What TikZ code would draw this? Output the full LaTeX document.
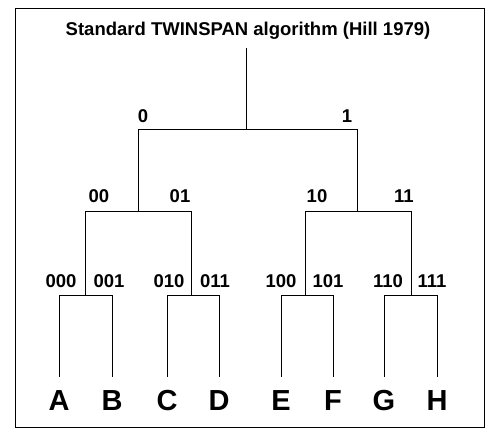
\documentclass[tikz,border=0pt]{standalone}
\usepackage{fontspec}
\setmainfont{Liberation Sans}
\usetikzlibrary{positioning}

\begin{document}
\begin{tikzpicture}[
    x=1pt, y=-1pt,
    branch/.style={line width=1pt, black},
    split/.style={font=\fontsize{18.5}{18.5}\selectfont\bfseries, anchor=base, inner sep=0pt},
    leaf/.style={font=\fontsize{29}{29}\selectfont\bfseries, anchor=north, inner xsep=0pt, inner ysep=13pt},
    title/.style={font=\fontsize{18.5}{19}\selectfont\bfseries, anchor=base}
]
\useasboundingbox (0,0) rectangle (489,432);
\draw[line width=0.8pt] (15,8) rectangle (484,427);

% Titel
\node[title] (heading) at (248,35) {Standard TWINSPAN algorithm (Hill 1979)};

% Verzweigungspunkte
\coordinate (top) at (246,48);
\coordinate (c) at (246,129);
\coordinate (c0) at (138,211);
\coordinate (c1) at (357,211);
\coordinate (c00) at (85,295);
\coordinate (c01) at (191,295);
\coordinate (c10) at (305,295);
\coordinate (c11) at (411,295);

% Endgruppen
\node[leaf] (A) at (59,377) {A};
\node[leaf] (B) at (112,377) {B};
\node[leaf] (C) at (167,377) {C};
\node[leaf] (D) at (219,377) {D};
\node[leaf] (E) at (281,377) {E};
\node[leaf] (F) at (333,377) {F};
\node[leaf] (G) at (384,377) {G};
\node[leaf] (H) at (437,377) {H};

% Baum
\draw[branch] (top) -- (c);
\draw[branch] (c) -| (c0);
\draw[branch] (c) -| (c1);
\draw[branch] (c0) -| (c00);
\draw[branch] (c0) -| (c01);
\draw[branch] (c1) -| (c10);
\draw[branch] (c1) -| (c11);
\draw[branch] (c00) -| (A.north);
\draw[branch] (c00) -| (B.north);
\draw[branch] (c01) -| (C.north);
\draw[branch] (c01) -| (D.north);
\draw[branch] (c10) -| (E.north);
\draw[branch] (c10) -| (F.north);
\draw[branch] (c11) -| (G.north);
\draw[branch] (c11) -| (H.north);

% Teilungscodes
\node[split] (l0) at (143,122) {0};
\node[split] (l1) at (347,122) {1};
\node[split] (l00) at (99,202) {00};
\node[split] (l01) at (180,202) {01};
\node[split] (l10) at (317,202) {10};
\node[split] (l11) at (404,202) {11};
\node[split] (l000) at (61,287) {000};
\node[split] (l001) at (109,287) {001};
\node[split] (l010) at (169,287) {010};
\node[split] (l011) at (215,287) {011};
\node[split] (l100) at (281,287) {100};
\node[split] (l101) at (328,287) {101};
\node[split] (l110) at (388,287) {110};
\node[split] (l111) at (432,287) {111};

\end{tikzpicture}
\end{document}
